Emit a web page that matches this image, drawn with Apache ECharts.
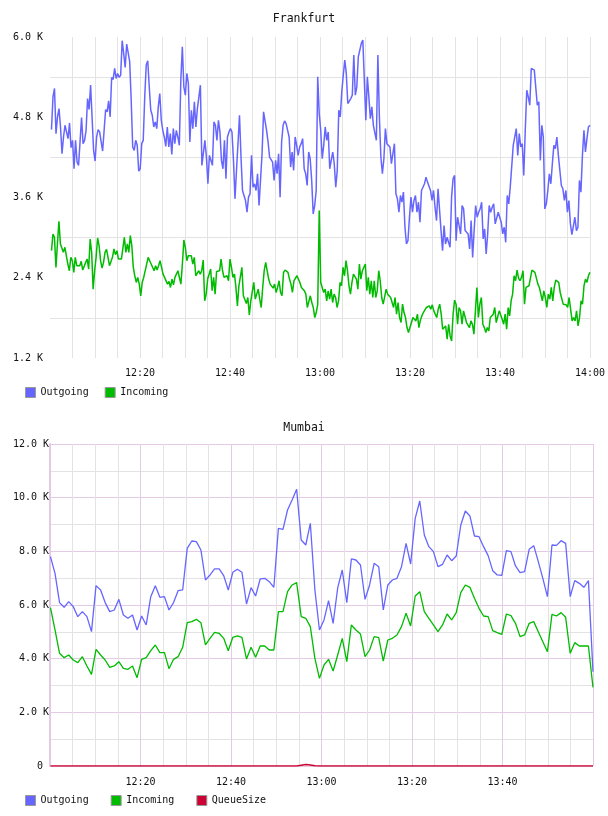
<!DOCTYPE html>
<html>
<head>
<meta charset="utf-8">
<script src="https://cdn.jsdelivr.net/npm/echarts@6/dist/echarts.min.js"></script>
<style>
  html, body { margin: 0; background: #fff; }
  #main { width: 608px; height: 816px; }
</style>
</head>
<body>
<div id="main"></div>
<script>
// minutes after 12:00, tick labels every 20 min
const tickMinutes = [20, 40, 60, 80, 100, 120];
const seriesNames = ['Outgoing', 'Incoming', 'QueueSize'];

// Frankfurt, one sample about every 20 s (12:00:20 .. 14:00)
const frankOut = [
  4615,5105,5230,4555,4805,4930,4655,4255,4505,4680,4705,4480,4715,4345,4455,4030,4455,4130,4080,4105,
  4795,4405,4455,4605,5080,4915,5280,5295,4305,4145,4505,4615,4580,4590,4295,4605,4915,4880,5045,4805,
  5395,5365,5530,5380,5455,5395,5430,5945,5755,5545,5895,5915,5630,5055,4355,4305,4455,4380,3995,4030,
  4405,4455,5105,5580,5645,5255,4905,4830,4655,4730,4630,4955,5155,4755,4605,4505,4365,4655,4355,4555,
  4245,4630,4405,4605,4505,4380,5355,5855,5255,
  5130,5455,5305,4430,4905,4630,5030,4655,4930,5105,5280,4080,4105,4455,4205,3805,4230,4230,4080,4730,
  4680,4455,4755,4580,4155,4030,4455,3880,4505,4580,4630,4580,4155,3580,4005,4405,4830,4205,3705,3680,
  3555,3380,3605,3655,4230,3755,3805,3705,3955,3480,3480,4255,4880,4905,4605,4430,4205,4205,4130,3855,
  4155,3955,4255,3605,4430,4680,4745,4705,4605,4505,4055,4280,4005,4505,4380,4230,4355,4405,4480,4030,
  3955,3780,4280,4180,3855,3355,3480,3705,5405,4855,4605,
  4180,4380,4655,4455,4580,4030,4155,4280,4105,3755,4005,4905,4805,5180,5430,5655,5455,5005,5030,5080,
  5130,5730,5130,5255,5705,5805,5905,5955,5965,4755,5405,5105,4780,4955,4680,4655,4455,5730,4805,4205,
  3955,4180,4630,4405,4405,4355,4105,4080,4405,3655,3580,3380,3630,3530,3680,3155,2905,2955,3305,3605,
  3380,3555,3630,3380,3530,3230,3705,3730,3805,3905,3830,3855,3705,3555,3705,3455,3255,3730,3705,3105,
  2805,3180,2905,3005,3005,2855,3605,3880,3930,2955,
  3305,3280,3055,3480,3430,3105,3130,3055,2830,3255,2705,3105,3480,3305,3380,3430,3530,2980,3130,2755,
  3055,3480,3380,3455,3505,3205,3180,3380,3355,3230,3055,3155,2930,3630,3505,3755,3780,4380,4405,4630,
  4230,4555,4355,4405,3930,4605,5205,5105,4980,5530,5515,5505,5505,4980,5030,4155,4680,4505,3430,3505,
  3705,3955,3805,4105,4380,4330,4505,4230,4205,3780,3730,3555,3705,3380,3555,3205,3045,3030,3305,3105,
  3155,3855,3680,4230,4605,4280,4480,4655,4680
];
const frankIn = [
  2805,3055,3005,2555,2905,3245,2905,2930,2780,2855,2880,2605,2505,2705,2655,2480,2705,2580,2555,2580,
  2645,2515,2540,2630,2680,2530,2980,2780,2230,2505,2705,2995,2880,2655,2545,2630,2780,2825,2705,2580,
  2605,2705,2830,2745,2805,2680,2655,2680,2705,3005,2780,2905,2780,3030,2880,2555,2430,2330,2405,2305,
  2130,2330,2405,2415,2605,2705,2655,2605,2630,2505,2580,2515,2580,2655,2555,2455,2405,2380,2305,2345,
  2255,2380,2295,2405,2380,2505,2480,2305,2605,2965,2855,2655,
  2730,2705,2730,2605,2705,2430,2405,2505,2455,2505,2665,2055,2155,2380,2380,2530,2205,2405,2155,2495,
  2480,2505,2680,2505,2405,2380,2430,2355,2680,2555,2405,2455,2255,1980,2280,2255,2555,2130,2155,2015,
  2105,1845,2055,2080,2330,2080,2155,2230,2080,1955,2255,2505,2630,2605,2380,2305,2330,2245,2305,2180,
  2255,2355,2180,2130,2480,2515,2515,2480,2380,2305,2180,2355,2355,2430,2455,2330,2255,2255,2205,2155,
  1955,1955,2130,2030,1955,1805,1880,2005,
  3405,2330,2305,2180,2230,2055,2205,2080,2230,2030,2155,2105,1955,2055,2330,2280,2555,2430,2655,2505,
  2280,2155,2330,2455,2480,2380,2230,2605,2380,2505,2530,2605,2205,2405,2155,2355,2105,2355,2105,2205,
  2505,2355,2105,2005,2030,2230,2155,2130,2105,2030,1955,2105,1855,2030,1805,1730,2005,1880,1805,1655,
  1580,1595,1730,1805,1780,1755,1855,1655,1765,1830,1880,1905,1955,1930,1980,1930,1995,1905,1915,1805,
  1930,2005,1855,1630,1605,1680,1480,1705,1530,1455,1855,2065,2005,1705,
  1955,1905,1705,1905,1905,1730,1705,1655,1755,1705,1555,1905,2255,1805,2005,2105,1705,1655,1580,1655,
  1605,1805,1830,1855,1955,1730,1755,1905,1880,1780,1705,1855,1630,1955,1830,2055,2155,2430,2355,2515,
  2395,2355,2405,2505,2005,2255,2265,2280,2295,2515,2530,2480,2495,2305,2255,2230,2055,2205,2105,1955,
  2155,2080,2255,2055,2255,2365,2355,2330,2180,2180,2005,1980,1995,1955,2105,1930,1755,1805,1755,1905,
  1680,1805,2055,2005,2280,2380,2330,2430,2480
];

// Mumbai, one sample per minute
const mumOut = [
  7800,7180,6090,5914,6125,5940,5566,5752,5566,5007,6721,6560,6090,5752,5814,6212,5628,5504,5628,5069,
  5590,5256,6311,6721,6286,6311,5814,6090,6535,6560,8112,8385,8360,8050,6932,7119,7343,7343,7094,6560,
  7218,7330,7218,6038,6647,6336,6970,6994,6870,6660,8858,8820,9541,9914,10311,8423,8236,9044,6560,5069,
  5442,6162,5317,6635,7305,6088,7715,7677,7491,6212,6746,7553,7429,5814,6746,6932,6994,7429,8298,7528,
  9230,9877,8609,8174,7988,7429,7516,7864,7652,7826,8982,9504,9318,8572,8547,8174,7839,7280,7119,7106,
  8025,7988,7454,7205,7243,8075,8211,7615,6994,6311,8236,8223,8397,8298,6311,6908,6808,6659,6908,3515
];
const mumIn = [
  5900,5069,4199,4037,4137,3950,3851,4074,3727,3416,4348,4137,3950,3677,3727,3888,3640,3603,3727,3292,
  3975,4037,4298,4510,4224,4224,3627,3975,4074,4423,5342,5380,5467,5342,4510,4758,4982,4945,4758,4298,
  4796,4845,4796,3988,4423,4050,4472,4472,4323,4323,5752,5752,6497,6746,6833,5566,5504,5193,4012,3267,
  3765,3975,3541,4137,4758,3888,5256,5069,4919,4074,4323,4820,4783,3913,4696,4758,4883,5193,5690,5218,
  6336,6497,5752,5504,5256,5007,5256,5665,5442,5715,6460,6746,6659,6249,5876,5590,5566,5044,4969,4907,
  5665,5603,5317,4820,4883,5317,5380,5007,4634,4261,5653,5590,5715,5541,4199,4597,4472,4472,4472,2932
];
const mumQueue = [
  0,0,0,0,0,0,0,0,0,0,0,0,0,0,0,0,0,0,0,0,
  0,0,0,0,0,0,0,0,0,0,0,0,0,0,0,0,0,0,0,0,
  0,0,0,0,0,0,0,0,0,0,0,0,0,0,0,30,60,40,10,0,
  0,0,0,0,0,0,0,0,0,0,0,0,0,0,0,0,0,0,0,0,
  0,0,0,0,0,0,0,0,0,0,0,0,0,0,0,0,0,0,0,0,
  0,0,0,0,0,0,0,0,0,0,0,0,0,0,0,0,0,0,0,0
];

const colors = ['#6666ff', '#00bb00', '#cc0033'];
const mono = 'DejaVu Sans Mono';
const pink = '#e4cae4';
const grey = '#e3e3e3';

// spread samples evenly between first and last timestamp (minutes)
function withTime(values, t0, t1) {
  const step = (t1 - t0) / (values.length - 1);
  return values.map((v, i) => [t0 + i * step, v]);
}

function timeLabel(showLast) {
  return v => {
    if (tickMinutes.indexOf(v) < 0) return '';
    if (v === 120 && !showLast) return '';
    const h = 12 + Math.floor(v / 60);
    const m = v % 60;
    return h + ':' + (m < 10 ? '0' + m : m);
  };
}

function kLabel(v) {
  if (v === 0) return '0 ';
  return (v / 1000).toFixed(1) + ' K';
}

const chart = echarts.init(document.getElementById('main'));

chart.setOption({
  animation: false,
  color: colors,
  title: [
    { text: 'Frankfurt', left: 'center', top: 13, padding: 0,
      textStyle: { fontFamily: mono, fontSize: 11.5, fontWeight: 'normal', color: '#111' } },
    { text: 'Mumbai', left: 'center', top: 422, padding: 0,
      textStyle: { fontFamily: mono, fontSize: 11.5, fontWeight: 'normal', color: '#111' } }
  ],
  legend: [
    { data: seriesNames.slice(0, 2).map(n => ({ name: n })), left: 25, top: 387, padding: 0,
      icon: 'rect', itemWidth: 10, itemHeight: 10, itemGap: 16,
      itemStyle: { borderColor: '#999', borderWidth: 1 },
      textStyle: { fontFamily: mono, fontSize: 10, color: '#111' } },
    { data: seriesNames.map(n => ({ name: n })), left: 25, top: 795, padding: 0,
      icon: 'rect', itemWidth: 10, itemHeight: 10, itemGap: 22,
      itemStyle: { borderColor: '#999', borderWidth: 1 },
      textStyle: { fontFamily: mono, fontSize: 10, color: '#111' } }
  ],
  grid: [
    { left: 50, right: 16, top: 37, height: 321 },
    { left: 50, right: 15, top: 444, height: 322 }
  ],
  xAxis: [
    { type: 'value', gridIndex: 0, min: 0, max: 120, interval: 5,
      axisLine: { show: false }, axisTick: { show: false },
      axisLabel: { formatter: timeLabel(true), margin: 10, fontFamily: mono, fontSize: 10, color: '#111',
        showMinLabel: true, showMaxLabel: true, hideOverlap: false },
      splitLine: { show: true, showMinLine: false, lineStyle: { color: grey, width: 1 } } },
    { type: 'value', gridIndex: 1, min: 0, max: 120, interval: 5,
      axisLine: { show: false }, axisTick: { show: false },
      axisLabel: { formatter: timeLabel(false), margin: 11, fontFamily: mono, fontSize: 10, color: '#111' },
      splitLine: { show: true, lineStyle: { color: [pink, grey, grey, grey], width: 1 } } }
  ],
  yAxis: [
    { type: 'value', gridIndex: 0, min: 1200, max: 6000, interval: 1200,
      axisLine: { show: false }, axisTick: { show: false },
      axisLabel: { formatter: kLabel, margin: 7, fontFamily: mono, fontSize: 10, color: '#111' },
      splitLine: { show: false },
      minorTick: { show: false, splitNumber: 2 },
      minorSplitLine: { show: true, lineStyle: { color: grey, width: 1 } } },
    { type: 'value', gridIndex: 1, min: 0, max: 12000, interval: 2000,
      axisLine: { show: true, lineStyle: { color: pink, width: 2 } }, axisTick: { show: false },
      axisLabel: { formatter: kLabel, margin: 1, fontFamily: mono, fontSize: 10, color: '#111' },
      splitLine: { show: true, lineStyle: { color: pink, width: 1 } },
      minorTick: { show: false, splitNumber: 2 },
      minorSplitLine: { show: true, lineStyle: { color: grey, width: 1 } } }
  ],
  series: [
    { name: 'Outgoing', type: 'line', xAxisIndex: 0, yAxisIndex: 0, showSymbol: false,
      lineStyle: { width: 1.5 }, data: withTime(frankOut, 0.33, 120) },
    { name: 'Incoming', type: 'line', xAxisIndex: 0, yAxisIndex: 0, showSymbol: false,
      lineStyle: { width: 1.5 }, data: withTime(frankIn, 0.33, 120) },
    { name: 'Outgoing', type: 'line', xAxisIndex: 1, yAxisIndex: 1, showSymbol: false,
      lineStyle: { width: 1.3 }, data: withTime(mumOut, 0.1, 120) },
    { name: 'Incoming', type: 'line', xAxisIndex: 1, yAxisIndex: 1, showSymbol: false,
      lineStyle: { width: 1.3 }, data: withTime(mumIn, 0.1, 120) },
    { name: 'QueueSize', type: 'line', xAxisIndex: 1, yAxisIndex: 1, showSymbol: false,
      lineStyle: { width: 1.5 }, data: withTime(mumQueue, 0.1, 120) }
  ]
});
</script>
</body>
</html>
